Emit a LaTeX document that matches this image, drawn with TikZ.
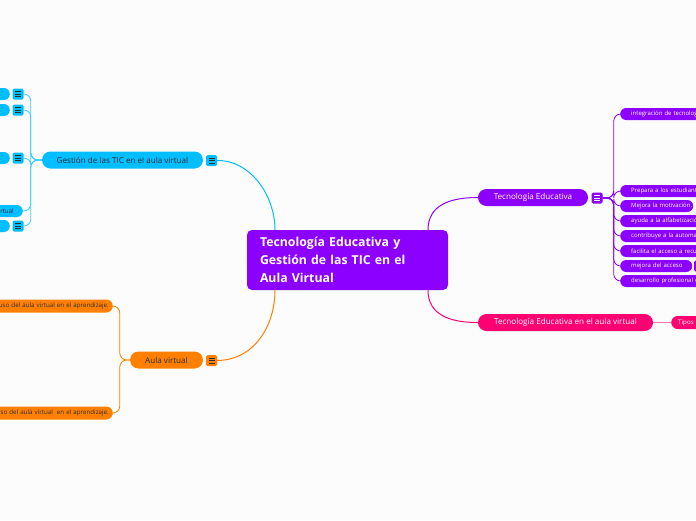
\documentclass[tikz,border=0pt]{standalone}
\usepackage{fontspec}
\setmainfont{Open Sans}
\definecolor{cbg}{RGB}{252,252,252}
\definecolor{cpurple}{RGB}{140,0,255}
\definecolor{cblue}{RGB}{0,190,255}
\definecolor{cbluel}{RGB}{60,205,255}
\definecolor{corange}{RGB}{255,128,0}
\definecolor{cpink}{RGB}{255,0,115}
\definecolor{cpinkl}{RGB}{255,120,170}
\definecolor{cdark}{RGB}{45,45,55}
\tikzset{
  pill/.style={rounded corners=#1, inner sep=0pt, minimum height=2*#1},
  menuicon/.style 2 args={minimum size=11, inner sep=0pt, rounded corners=1.5, fill=#1,
    path picture={
      \draw[#2, line width=0.8pt]
        ([xshift=-3pt,yshift=2.6pt]path picture bounding box.center) -- ([xshift=3pt,yshift=2.6pt]path picture bounding box.center)
        ([xshift=-3pt]path picture bounding box.center) -- ([xshift=3pt]path picture bounding box.center)
        ([xshift=-3pt,yshift=-2.6pt]path picture bounding box.center) -- ([xshift=3pt,yshift=-2.6pt]path picture bounding box.center);}},
  rootbox/.style={fill=cpurple, rounded corners=5, text=white, align=left, text width=175, inner xsep=13, inner ysep=0,
    minimum width=201, minimum height=60, font=\fontsize{12.3}{18}\selectfont\bfseries},
  mainbranch/.style={pill=8.5, font=\fontsize{8.1}{9}\selectfont},
  bluechild/.style={pill=6, fill=cblue, text=cdark, font=\fontsize{6.2}{7}\selectfont},
  orangechild/.style={pill=6.5, fill=corange, text=cdark, font=\fontsize{6.2}{7}\selectfont, text width=160, align=right, inner xsep=4},
  purplechild/.style={pill=6, fill=cpurple, text=white, font=\fontsize{6.0}{7}\selectfont, inner xsep=0, align=left,
    text width=#1, execute at begin node={\hspace*{11pt}}},
  link/.style={line width=1pt},
}
\begin{document}
\begin{tikzpicture}[x=1pt,y=-1pt]
\useasboundingbox (0,0) rectangle (696,520);
\fill[cbg] (0,0) rectangle (696,520);
\clip (0,0) rectangle (696,520);

% central node
\node[rootbox] (root) at (347.5,260) {Tecnología Educativa y\\Gestión de las TIC en el\\Aula Virtual};

% ---------- Gestión branch (blue) ----------
\node[mainbranch, fill=cblue, text=cdark, minimum width=161] (G) at (122.5,160) {Gestión de las TIC en el aula virtual};
\node[menuicon={cblue}{cdark}] (iG) at (211.5,160.5) {};
\draw[link, cblue] (iG.east) .. controls (250,160) and (275,195) .. (275,230);

\node[bluechild, minimum width=40, anchor=east] (L1) at (10,94) {};
\node[menuicon={cblue}{cdark}] (iL1) at (18,94) {};
\node[bluechild, minimum width=40, anchor=east] (L2) at (10,110) {};
\node[menuicon={cblue}{cdark}] (iL2) at (18,110) {};
\node[bluechild, minimum width=40, anchor=east] (L3) at (10,158) {};
\node[menuicon={cblue}{cdark}] (iL3) at (18,158) {};
\node[bluechild, minimum width=60, anchor=east, text width=50, align=right, inner xsep=9] (L4) at (23,211) {rtual};
\node[bluechild, minimum width=40, anchor=east] (L5) at (10,226) {};
\node[menuicon={cblue}{cdark}] (iL5) at (18,226) {};

\begin{scope}[cbluel, line width=0.8pt, rounded corners=7]
\draw (G.west) -- ++(-11,0) |- (iL1.east);
\draw (G.west) -- ++(-11,0) |- (iL2.east);
\draw (G.west) -- ++(-11,0) |- (iL3.east);
\draw (G.west) -- ++(-11,0) |- (L4.east);
\draw (G.west) -- ++(-11,0) |- (iL5.east);
\end{scope}

% ---------- Aula virtual branch (orange) ----------
\node[mainbranch, fill=corange, text=cdark, minimum width=73] (A) at (166.5,360) {Aula virtual};
\node[menuicon={corange}{cdark}] (iA) at (211.5,360.5) {};
\draw[link, corange] (iA.east) .. controls (255,360) and (275,325) .. (275,290);

\node[orangechild, anchor=east] (O1) at (113,306) {uso del aula virtual en el aprendizaje.};
\node[orangechild, anchor=east] (O2) at (113,413) {uso del aula virtual\ \ en el aprendizaje.};
\begin{scope}[corange, line width=0.8pt, rounded corners=7]
\draw (A.west) -- ++(-10,0) |- (O1.east);
\draw (A.west) -- ++(-10,0) |- (O2.east);
\end{scope}

% ---------- Tecnología Educativa branch (purple) ----------
\node[mainbranch, fill=cpurple, text=white, minimum width=110] (TE) at (533,197.5) {Tecnología Educativa};
\node[menuicon={cpurple}{white}] (iTE) at (597,198) {};
\draw[link, cpurple] (428,230) .. controls (428,205) and (450,197.5) .. (TE.west);

\node[purplechild=120, anchor=west] (R1) at (620,114) {integración de tecnolog};
\node[purplechild=120, anchor=west] (R2) at (620,191) {Prepara a los estudiante};
\node[purplechild=73, anchor=west] (R3) at (620,206) {\mbox{Mejora la motivación.}};
\node[purplechild=120, anchor=west] (R4) at (620,221) {ayuda a la alfabetizació};
\node[purplechild=120, anchor=west] (R5) at (620,236) {contribuye a la automat};
\node[purplechild=120, anchor=west] (R6) at (620,251) {facilita el acceso a recu};
\node[purplechild=72, anchor=west] (R7) at (620,266) {\mbox{mejora del acceso}};
\node[menuicon={cpurple}{white}] (iR7) at (699.5,266) {};
\node[purplechild=120, anchor=west] (R8) at (620,281) {desarrollo profesional d};

\begin{scope}[cpurple, line width=0.8pt, rounded corners=7]
\foreach \r in {R1,R2,R3,R4,R5,R6,R7,R8}
  \draw (iTE.east) -- ++(11,0) |- (\r.west);
\end{scope}

% ---------- Pink branch ----------
\node[mainbranch, fill=cpink, text=white, minimum width=175] (P) at (565.5,322.5) {Tecnología Educativa en el aula virtual};
\draw[link, cpink] (428,290) .. controls (428,315) and (450,322.5) .. (P.west);
\node[pill=6.5, fill=cpink, text=white, font=\fontsize{6.2}{7}\selectfont, anchor=west, text width=60, align=left, inner xsep=0, execute at begin node={\hspace*{7pt}}] (T) at (671,322.5) {Tipos};
\draw[cpinkl, line width=1.2pt] (P.east) -- (T.west);
\end{tikzpicture}
\end{document}
